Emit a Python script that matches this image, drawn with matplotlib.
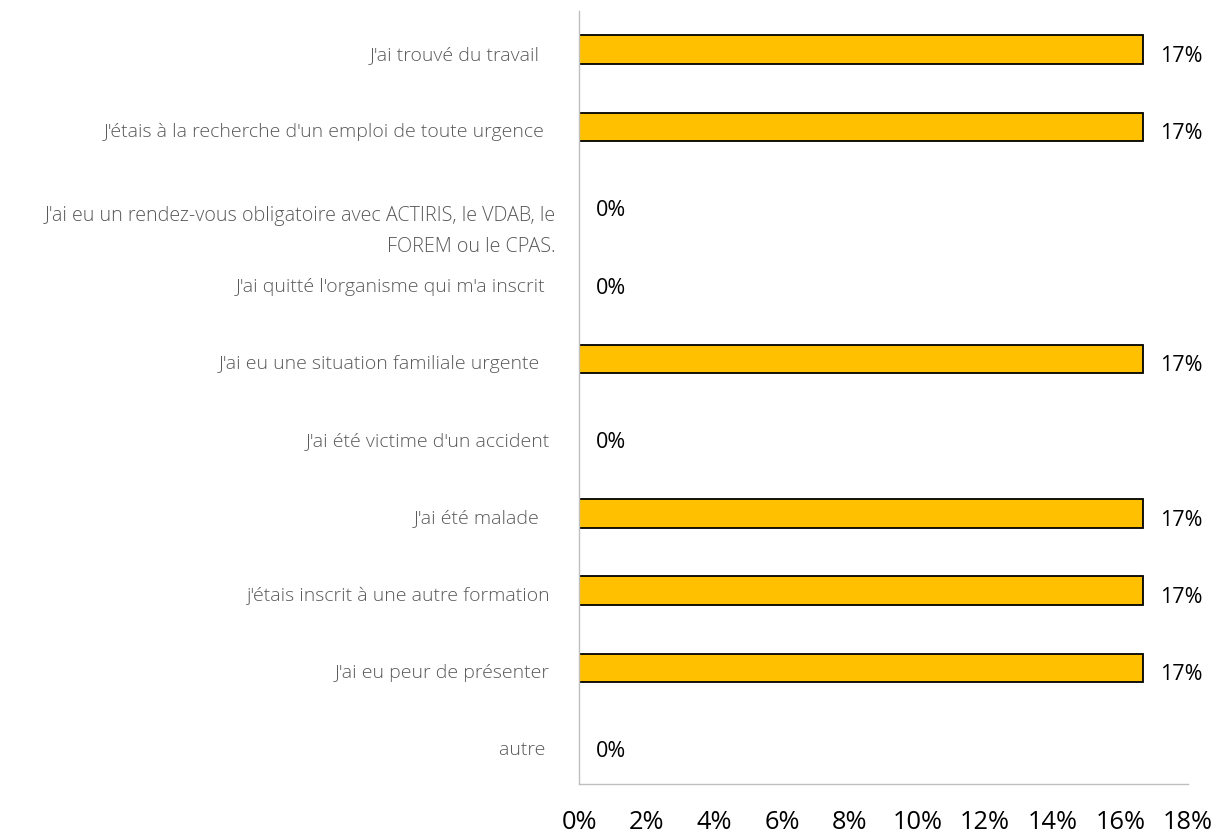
import matplotlib
matplotlib.use("Agg")
import matplotlib.pyplot as plt
from matplotlib.ticker import FuncFormatter
from matplotlib import transforms

categories = [
    "J'ai trouvé du travail  ",
    "J'étais à la recherche d'un emploi de toute urgence ",
    "J'ai eu un rendez-vous obligatoire avec ACTIRIS, le VDAB, le\nFOREM ou le CPAS.",
    "J'ai quitté l'organisme qui m'a inscrit ",
    "J'ai eu une situation familiale urgente  ",
    "J'ai été victime d'un accident",
    "J'ai été malade  ",
    "j'étais inscrit à une autre formation",
    "J'ai eu peur de présenter",
    "autre ",
]
values = [16.67, 16.67, 0, 0, 16.67, 0, 16.67, 16.67, 16.67, 0]
value_labels = ["17%", "17%", "0%", "0%", "17%", "0%", "17%", "17%", "17%", "0%"]
xticks = [0, 2, 4, 6, 8, 10, 12, 14, 16, 18]

plt.rcParams['font.family'] = ['Open Sans', 'DejaVu Sans']

fig = plt.figure(figsize=(12.17, 8.37), dpi=100)
ax = fig.add_axes([0.4758, 0.0621, 0.5004, 0.9236])

ypos = list(range(len(categories)))
ax.barh(ypos, values, height=0.37, color='#FFC000', edgecolor='black', linewidth=1.3)

for y, v, lab in zip(ypos, values, value_labels):
    ax.annotate(lab, xy=(v, y), xytext=(12, -4), textcoords='offset points',
                ha='left', va='center', fontsize=15.5, color='#000000')

ax.set_ylim(len(categories) - 0.5, -0.5)
ax.set_xlim(0, 18)
ax.set_xticks(xticks)
ax.xaxis.set_major_formatter(FuncFormatter(lambda v, p: f"{int(round(v))}%"))
ax.set_yticks(ypos)
ax.set_yticklabels([])
ax.tick_params(axis='y', length=0)
ax.tick_params(axis='x', length=0, pad=18, labelsize=18.3, colors='#000000')

label_tr = transforms.blended_transform_factory(ax.transAxes, ax.transData) + \
    transforms.ScaledTranslation(-29 / 100, 0, fig.dpi_scale_trans)
for y, cat in zip(ypos, categories):
    if '\n' in cat:
        ax.text(0, y, cat, transform=label_tr + transforms.ScaledTranslation(6 / 100, -1 / 100, fig.dpi_scale_trans),
                ha='right', va='top', multialignment='right', fontsize=14.2, color='#595959',
                fontweight='light', linespacing=1.7)
    else:
        ax.text(0, y, cat, transform=label_tr + transforms.ScaledTranslation(0, -4 / 100, fig.dpi_scale_trans),
                ha='right', va='center', fontsize=14, color='#595959', fontweight='light')

for s in ['top', 'right']:
    ax.spines[s].set_visible(False)
ax.spines['left'].set_color('#BFBFBF')
ax.spines['bottom'].set_color('#BFBFBF')
ax.spines['left'].set_linewidth(1)
ax.spines['bottom'].set_linewidth(1)

fig.savefig("out.png", dpi=100)
